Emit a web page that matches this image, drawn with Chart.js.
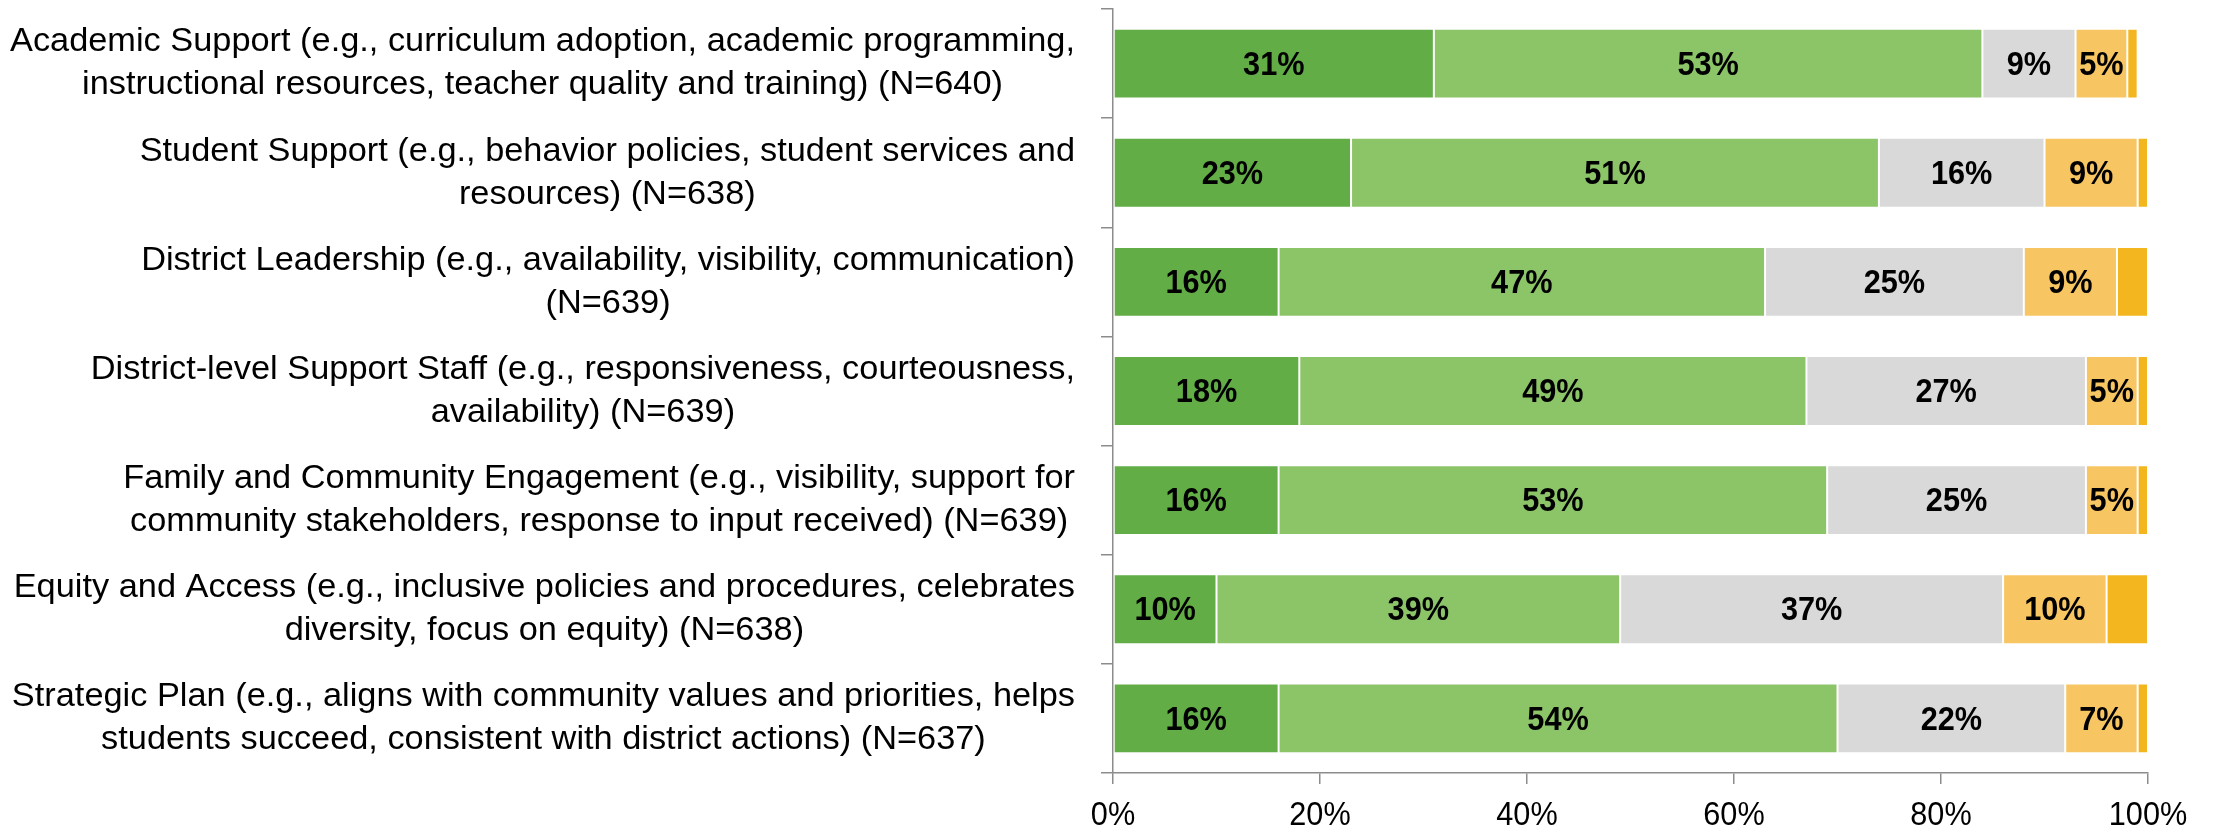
<!DOCTYPE html>
<html>
<head>
<meta charset="utf-8">
<script src="https://cdn.jsdelivr.net/npm/chart.js@4.4.1/dist/chart.umd.min.js"></script>
<style>
  html, body { margin: 0; padding: 0; background: #fff; }
  #wrap { width: 2213px; height: 837px; }
</style>
</head>
<body>
<div id="wrap"><canvas id="chart"></canvas></div>
<script>
// Kategorie (řádky popisků)
const categories = [
  ['Academic Support (e.g., curriculum adoption, academic programming,', 'instructional resources, teacher quality and training) (N=640)'],
  ['Student Support (e.g., behavior policies, student services and', 'resources) (N=638)'],
  ['District Leadership (e.g., availability, visibility, communication)', '(N=639)'],
  ['District-level Support Staff (e.g., responsiveness, courteousness,', 'availability) (N=639)'],
  ['Family and Community Engagement (e.g., visibility, support for', 'community stakeholders, response to input received) (N=639)'],
  ['Equity and Access (e.g., inclusive policies and procedures, celebrates', 'diversity, focus on equity) (N=638)'],
  ['Strategic Plan (e.g., aligns with community values and priorities, helps', 'students succeed, consistent with district actions) (N=637)'],
];

// Hodnoty (%)
const verySatisfied = [31, 23, 16, 18, 16, 10, 16];
const satisfied = [53, 51, 47, 49, 53, 39, 54];
const neutral = [9, 16, 25, 27, 25, 37, 22];
const dissatisfied = [5, 9, 9, 5, 5, 10, 7];
const veryDissatisfied = [1, 1, 3, 1, 1, 4, 1];

const xTicks = [0, 20, 40, 60, 80, 100];

const FONT = '"Liberation Sans", Arial, sans-serif';
const FONT_SIZE = 33;
const SX = 0.93;     // zúžení písma (náhrada za Calibri)
const CAT_SIZE = 34;
const CAT_SX = 1.01;
const AXIS_GRAY = '#8c8c8c';
const LINE_H = 43;

// text se zúžením do šířky
function drawText(ctx, text, x, y, sx) {
  ctx.save();
  ctx.translate(x, y);
  ctx.scale(sx, 1);
  ctx.fillText(text, 0, 0);
  ctx.restore();
}

// Popisky hodnot uvnitř pruhů
const barLabels = {
  id: 'barLabels',
  afterDatasetsDraw(chart) {
    const ctx = chart.ctx;
    ctx.save();
    ctx.font = `bold ${FONT_SIZE}px ${FONT}`;
    ctx.fillStyle = '#000';
    ctx.textAlign = 'center';
    ctx.textBaseline = 'middle';
    chart.data.datasets.forEach((ds, i) => {
      if (!ds.showLabels) return;
      chart.getDatasetMeta(i).data.forEach((bar, j) => {
        const { x, base, y } = bar.getProps(['x', 'base', 'y'], true);
        drawText(ctx, ds.data[j] + '%', (x + base) / 2, y + 2, SX);
      });
    });
    ctx.restore();
  }
};

// Popisky os (kategorie: blok vpravo, řádky na střed; osa x: procenta)
const axisLabels = {
  id: 'axisLabels',
  afterDraw(chart) {
    const ys = chart.scales.y;
    const xs = chart.scales.x;
    const ctx = chart.ctx;
    ctx.save();
    ctx.fillStyle = '#000';
    ctx.textAlign = 'center';
    ctx.textBaseline = 'middle';
    ctx.font = `${CAT_SIZE}px ${FONT}`;
    const right = ys.right - 38;
    categories.forEach((lines, i) => {
      const yc = ys.getPixelForTick(i);
      const w = Math.max(...lines.map(l => ctx.measureText(l).width)) * CAT_SX;
      const cx = right - w / 2;
      lines.forEach((l, k) => {
        drawText(ctx, l, cx, yc + (k - (lines.length - 1) / 2) * LINE_H, CAT_SX);
      });
    });
    ctx.font = `${FONT_SIZE}px ${FONT}`;
    xTicks.forEach(v => {
      drawText(ctx, v + '%', xs.getPixelForValue(v), xs.top + 43, SX);
    });
    ctx.restore();
  }
};

const mk = (label, data, color, showLabels) => ({
  label, data,
  backgroundColor: color,
  borderColor: '#ffffff',
  borderWidth: 1,
  borderSkipped: false,
  barPercentage: 0.64,
  categoryPercentage: 1,
  showLabels,
});

new Chart(document.getElementById('chart'), {
  type: 'bar',
  data: {
    labels: categories.map(c => c.join(' ')),
    datasets: [
      mk('Very satisfied', verySatisfied, '#62ad46', true),
      mk('Satisfied', satisfied, '#8cc468', true),
      mk('Neutral', neutral, '#d9d9d9', true),
      mk('Dissatisfied', dissatisfied, '#f7c663', true),
      mk('Very dissatisfied', veryDissatisfied, '#f3b61e', false),
    ],
  },
  options: {
    indexAxis: 'y',
    responsive: true,
    maintainAspectRatio: false,
    animation: false,
    layout: { padding: { top: 9, right: 65, bottom: 0, left: 0 } },
    plugins: {
      legend: { display: false },
      tooltip: { enabled: false },
    },
    scales: {
      x: {
        stacked: true,
        min: 0,
        max: 100,
        afterBuildTicks: s => { s.ticks = xTicks.map(v => ({ value: v })); },
        afterFit: s => { s.height = 64; },
        grid: { drawOnChartArea: false, drawTicks: true, tickLength: 11, color: AXIS_GRAY, lineWidth: 1.5 },
        border: { color: AXIS_GRAY, width: 1.5 },
        ticks: { display: false },
      },
      y: {
        stacked: true,
        afterFit: s => { s.width = 1113; },
        grid: { drawOnChartArea: false, drawTicks: true, tickLength: 12, color: AXIS_GRAY, lineWidth: 1.5, offset: true },
        border: { color: AXIS_GRAY, width: 1.5 },
        ticks: { display: false },
      },
    },
  },
  plugins: [barLabels, axisLabels],
});
</script>
</body>
</html>
